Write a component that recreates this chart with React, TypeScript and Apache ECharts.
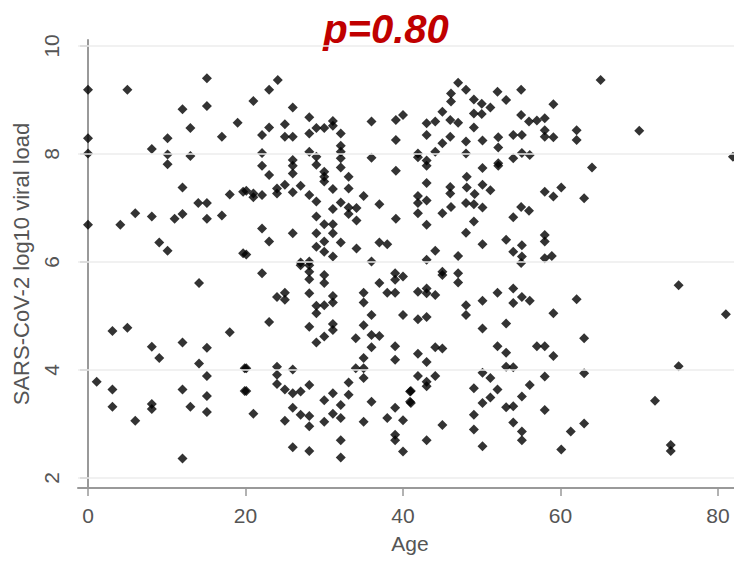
import React, { useEffect, useRef } from "react";
import * as echarts from "echarts";

// Age 0-20
const groupA: [number, number][] = [
  [0.0, 9.19], [5.0, 9.19], [15.1, 9.4], [15.1, 8.89], [12.0, 8.83], [19.0, 8.58], [13.0, 8.48],
  [17.0, 8.32], [0.0, 8.29], [10.1, 8.29], [8.1, 8.09], [0.0, 8.01], [10.1, 7.99], [13.0, 7.96],
  [10.1, 7.81], [12.0, 7.38], [18.0, 7.25], [19.7, 7.3], [14.0, 7.09], [15.1, 7.09], [6.0, 6.9],
  [8.1, 6.84], [12.0, 6.89], [11.0, 6.8], [15.1, 6.8], [17.0, 6.86], [0.0, 6.69], [4.1, 6.69],
  [9.05, 6.36], [10.1, 6.21], [19.7, 6.16],
  [14.1, 5.61], [3.1, 4.72], [5.0, 4.78], [18.0, 4.7], [8.1, 4.43], [12.0, 4.51], [15.1, 4.41],
  [9.05, 4.22], [14.1, 4.12], [19.9, 4.03], [1.1, 3.78], [15.1, 3.89], [3.1, 3.64], [12.0, 3.64],
  [19.9, 3.61], [15.1, 3.52], [3.1, 3.32], [8.1, 3.37], [8.1, 3.28], [13.0, 3.32], [15.1, 3.22],
  [6.0, 3.06], [12.0, 2.36],
];

// Age 20-40
const groupB: [number, number][] = [
  [24.1, 9.37], [23.0, 9.19], [21.0, 8.98], [26.0, 8.86], [28.1, 8.68], [31.1, 8.61], [29.0, 8.48],
  [30.0, 8.48], [31.1, 8.52], [32.1, 8.38], [36.0, 8.6], [39.1, 8.63], [40.0, 8.72], [23.0, 8.49],
  [22.1, 8.35], [25.0, 8.55], [25.0, 8.32], [26.0, 8.32], [28.1, 8.38], [39.1, 8.26], [32.1, 8.15],
  [32.1, 8.04], [32.1, 7.92], [32.1, 7.75], [28.1, 8.04], [29.0, 7.95], [29.0, 7.8], [22.1, 8.02],
  [22.1, 7.78], [26.0, 7.89], [26.0, 7.78], [26.0, 7.64], [36.0, 7.93], [39.1, 7.69], [23.0, 7.61],
  [30.0, 7.67], [30.0, 7.58], [30.0, 7.49], [33.1, 7.58], [33.1, 7.36], [31.1, 7.35], [27.0, 7.41],
  [25.0, 7.43], [24.0, 7.36], [24.0, 7.27], [26.0, 7.29], [20.1, 7.32], [21.0, 7.27], [22.1, 7.24],
  [21.0, 7.2], [28.1, 7.24], [29.0, 7.12], [35.0, 7.22], [37.0, 7.07], [32.1, 7.1], [33.1, 7.01],
  [34.1, 7.0], [31.1, 6.98], [33.1, 6.89], [34.1, 6.77], [29.0, 6.84], [30.0, 6.7], [31.1, 6.7],
  [39.1, 6.8], [22.1, 6.62], [26.0, 6.53], [29.0, 6.53], [31.1, 6.53], [23.0, 6.38], [30.0, 6.38],
  [29.0, 6.28], [32.1, 6.36], [30.0, 6.19], [31.1, 6.1], [34.1, 6.25], [37.0, 6.36], [38.0, 6.33],
  [20.1, 6.14], [27.0, 5.99], [28.1, 6.01], [36.0, 6.01],
  [22.1, 5.79], [27.0, 5.94], [28.1, 5.94], [28.1, 5.82], [28.1, 5.68], [30.0, 5.76], [30.0, 5.61],
  [39.0, 5.79], [40.0, 5.73], [39.0, 5.67], [37.0, 5.61], [38.0, 5.43], [39.0, 5.43], [24.0, 5.35],
  [25.0, 5.43], [25.0, 5.3], [28.1, 5.42], [31.1, 5.37], [31.1, 5.25], [30.0, 5.2], [29.0, 5.19],
  [29.0, 5.05], [35.0, 5.43], [35.0, 5.25], [36.0, 5.02], [40.0, 5.02], [23.0, 4.89], [28.1, 4.8],
  [31.1, 4.85], [31.1, 4.74], [30.0, 4.62], [29.0, 4.51], [35.0, 4.83], [36.0, 4.65], [37.0, 4.63],
  [34.0, 4.59], [36.0, 4.42], [39.0, 4.44], [39.0, 4.19], [35.0, 4.22], [34.0, 4.03], [35.0, 4.03],
  [35.0, 3.85], [20.1, 4.03], [24.0, 4.06], [24.0, 3.91], [26.0, 4.01], [24.0, 3.74], [25.0, 3.64],
  [26.0, 3.57], [27.0, 3.6], [28.1, 3.72], [20.1, 3.61], [33.1, 3.77], [33.1, 3.54], [31.1, 3.57],
  [30.0, 3.44], [32.1, 3.35], [26.0, 3.3], [36.0, 3.41], [39.0, 3.3], [21.0, 3.19], [27.0, 3.17],
  [28.1, 3.15], [28.1, 2.96], [31.1, 3.19], [32.1, 3.11], [30.0, 3.04], [25.0, 3.06], [35.0, 3.04],
  [38.0, 3.11], [40.0, 3.07], [39.0, 2.8], [39.0, 2.7], [32.1, 2.7], [40.0, 2.49], [26.0, 2.57],
  [28.1, 2.5], [32.1, 2.38], [40.9, 3.6], [40.9, 3.41],
];

// Age 40-60
const groupC: [number, number][] = [
  [47.0, 9.32], [48.0, 9.19], [46.1, 9.12], [46.1, 8.97], [49.0, 9.01], [50.0, 8.93], [51.1, 8.86],
  [52.0, 9.15], [53.1, 9.0], [55.0, 9.19], [59.1, 8.92], [45.0, 8.78], [43.0, 8.57], [44.1, 8.6],
  [46.0, 8.63], [47.0, 8.58], [49.0, 8.75], [50.0, 8.74], [49.0, 8.49], [55.0, 8.72], [56.0, 8.6],
  [57.0, 8.62], [58.0, 8.66], [43.0, 8.35], [46.0, 8.32], [45.0, 8.2], [44.1, 8.04], [48.0, 8.23],
  [48.0, 8.01], [50.1, 8.25], [52.1, 8.31], [52.1, 8.12], [54.0, 8.35], [55.1, 8.35], [58.0, 8.44],
  [58.0, 8.32], [59.1, 8.31], [41.9, 8.01], [41.9, 7.94], [43.0, 7.78], [43.0, 7.88], [54.0, 7.92],
  [55.1, 8.02], [56.1, 7.98], [52.1, 7.83], [52.1, 7.78], [50.1, 7.74], [43.0, 7.46], [48.1, 7.58],
  [48.1, 7.38], [46.0, 7.39], [46.0, 7.27], [50.1, 7.43], [51.1, 7.33], [49.1, 7.26], [58.0, 7.3],
  [59.1, 7.21], [60.1, 7.38], [41.9, 7.22], [41.9, 7.09], [43.0, 7.14], [41.9, 6.9], [43.0, 6.69],
  [45.0, 6.9], [46.1, 7.02], [48.0, 7.09], [49.0, 7.07], [50.1, 7.01], [49.0, 6.75], [55.0, 7.02],
  [56.0, 6.95], [54.0, 6.83], [48.0, 6.54], [50.1, 6.33], [53.1, 6.41], [54.0, 6.19], [55.1, 6.31],
  [55.1, 6.1], [58.0, 6.5], [58.0, 6.38], [58.0, 6.07], [58.9, 6.11], [44.1, 6.21], [43.0, 6.04],
  [47.0, 6.11],
  [55.0, 5.98], [45.0, 5.82], [45.0, 5.76], [47.0, 5.79], [47.0, 5.62], [41.9, 5.45], [43.0, 5.51],
  [43.0, 5.42], [44.1, 5.39], [48.0, 5.2], [48.0, 5.02], [50.1, 5.28], [52.0, 5.43], [54.0, 5.51],
  [54.0, 5.24], [55.1, 5.35], [56.1, 5.28], [59.1, 5.05], [41.9, 4.94], [43.0, 4.98], [50.1, 4.77],
  [53.1, 4.86], [44.1, 4.42], [45.0, 4.4], [41.9, 4.3], [43.0, 4.15], [52.0, 4.44], [53.1, 4.32],
  [57.0, 4.44], [58.0, 4.44], [59.1, 4.26], [53.1, 4.06], [54.0, 4.05], [41.9, 3.89], [43.0, 3.78],
  [43.0, 3.7], [44.1, 3.89], [41.0, 3.61], [41.0, 3.39], [50.1, 3.95], [51.1, 3.85], [49.0, 3.66],
  [52.0, 3.64], [56.1, 3.72], [58.0, 3.88], [51.1, 3.49], [50.1, 3.39], [55.1, 3.51], [53.1, 3.31],
  [54.0, 3.33], [58.0, 3.26], [49.0, 3.17], [54.0, 3.03], [45.0, 2.98], [49.0, 2.9], [55.1, 2.86],
  [55.1, 2.7], [43.0, 2.7], [50.1, 2.59], [60.1, 2.53],
];

// Age 60+
const groupD: [number, number][] = [
  [65.1, 9.37], [62.05, 8.44], [62.05, 8.26], [70.0, 8.43], [81.9, 7.95], [64.0, 7.75], [63.0, 7.18],
  [62.05, 5.31], [75.0, 5.57], [81.0, 5.03], [63.0, 4.59], [63.0, 3.94], [75.0, 4.07], [72.0, 3.43],
  [63.0, 3.01], [61.3, 2.86], [74.0, 2.61], [74.0, 2.5],
];

const xTicks = [0, 20, 40, 60, 80];
const yTicks = [2, 4, 6, 8, 10];
const titleText = "p=0.80";
const xName = "Age";
const yName = "SARS-CoV-2 log10 viral load";

export default function App() {
  const ref = useRef<HTMLDivElement>(null);
  useEffect(() => {
    if (!ref.current) return;
    const chart = echarts.init(ref.current, null, { renderer: "svg" });
    const data = [...groupA, ...groupB, ...groupC, ...groupD];
    const font = "'Liberation Sans', Arial, sans-serif";
    const axisColor = "#999";
    const labelColor = "#555";
    chart.setOption({
      animation: false,
      backgroundColor: "#fff",
      grid: { left: 78, right: 0, top: 40, bottom: 77 },
      graphic: [
        {
          type: "text",
          x: 386,
          y: 29,
          style: {
            text: titleText,
            fill: "#c00000",
            font: `italic bold 40px ${font}`,
            textAlign: "center",
            textVerticalAlign: "middle",
          },
        },
      ],
      xAxis: {
        type: "value",
        min: -1.27,
        max: 83.05,
        name: xName,
        nameLocation: "middle",
        nameGap: 45,
        nameTextStyle: { fontFamily: font, fontSize: 21, color: labelColor },
        axisLine: { show: true, lineStyle: { color: axisColor, width: 2 } },
        axisTick: { show: true, length: 8, customValues: xTicks, lineStyle: { color: axisColor, width: 1.5 } },
        axisLabel: {
          customValues: xTicks,
          fontFamily: font,
          fontSize: 21,
          color: labelColor,
          margin: 17,
        },
        splitLine: { show: false },
      },
      yAxis: {
        type: "value",
        min: 1.815,
        max: 10.11,
        name: yName,
        nameLocation: "middle",
        nameRotate: 90,
        nameGap: 46,
        nameTextStyle: { fontFamily: font, fontSize: 22, color: labelColor },
        axisLine: { show: true, lineStyle: { color: axisColor, width: 2 } },
        axisTick: { show: true, length: 8, customValues: yTicks, lineStyle: { color: axisColor, width: 1.5 } },
        axisLabel: {
          customValues: yTicks,
          rotate: 90,
          fontFamily: font,
          fontSize: 21,
          color: labelColor,
          margin: 16,
        },
        splitLine: { show: false },
      },
      series: [
        {
          type: "scatter",
          data: [],
          z: 1,
          markLine: {
            silent: true,
            symbol: "none",
            label: { show: false },
            lineStyle: { color: "#ececec", width: 1.5, type: "solid" },
            data: yTicks.map((v) => ({ yAxis: v })),
          },
        },
        {
          type: "scatter",
          data,
          z: 3,
          symbol: "diamond",
          symbolSize: 10,
          clip: false,
          itemStyle: { color: "#000" },
        },
      ],
    });
    return () => chart.dispose();
  }, []);
  return <div ref={ref} style={{ width: 742, height: 565, margin: -8 }} />;
}
